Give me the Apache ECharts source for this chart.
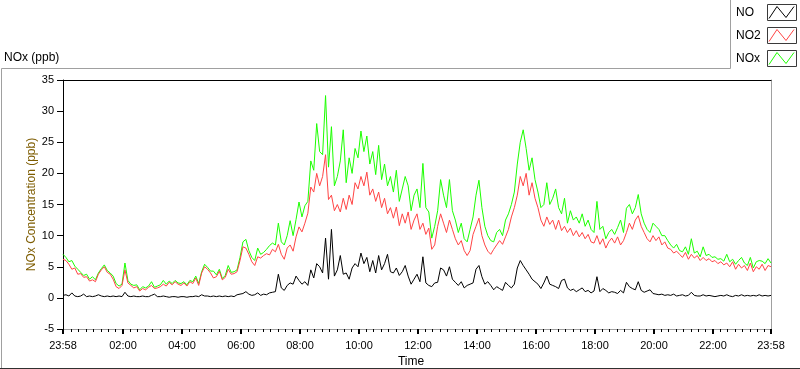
<!DOCTYPE html>
<html><head><meta charset="utf-8">
<script src="https://cdn.jsdelivr.net/npm/echarts@6/dist/echarts.min.js"></script>
<style>html,body{margin:0;padding:0;background:#fff}#c{width:800px;height:369px}</style>
</head><body><div id="c"></div>
<script>
// sample grid: first sample at 23:58 of previous day (minute -2), one sample every 6 minutes
const startMinute = -2;
const stepMinutes = 6;

const no = [
0.4,0.5,0.3,0.8,0.3,0.2,0.3,0.6,0.2,0.3,
0.2,0.3,0.5,0.3,0.2,0.3,0.2,0.3,0.2,0.3,
0.2,0.9,0.3,0.2,0.3,0.2,0.2,0.3,0.2,0.2,
0.4,0.6,0.2,0.2,0.3,0.2,0.1,0.2,0.2,0.1,
0.2,0.2,0.1,0.2,0.2,0.3,0.2,0.5,0.3,0.3,
0.2,0.3,0.2,0.3,0.2,0.3,0.2,0.3,0.2,0.5,
0.6,0.7,1.0,0.6,0.4,0.5,0.8,0.4,0.6,0.5,
0.8,0.9,1.0,3.8,1.6,1.2,2.0,2.4,2.2,3.5,
2.8,2.2,2.6,2.0,4.5,3.2,5.5,5.0,4.0,9.6,
3.0,11.0,3.5,4.5,6.8,3.8,4.0,3.0,4.8,5.5,
5.0,7.2,5.5,6.5,4.2,6.0,4.0,6.8,4.5,5.5,
7.0,4.2,4.0,4.8,3.6,4.2,5.2,3.5,2.2,3.0,
3.8,2.6,6.6,2.4,2.0,1.8,2.4,2.5,4.8,4.5,
3.5,5.0,3.0,2.5,2.0,2.6,1.6,2.0,2.2,2.4,
4.6,5.2,3.4,2.2,2.6,2.0,1.3,1.8,1.5,1.2,
2.5,2.0,1.6,2.2,4.8,6.0,5.2,4.5,3.8,3.0,
2.6,2.2,1.5,2.4,3.5,2.2,2.0,1.8,1.5,2.8,
3.0,1.6,1.2,1.4,1.0,1.3,1.6,1.0,1.2,0.8,
1.1,3.4,1.0,1.5,1.2,0.8,1.0,0.9,0.7,1.2,
0.8,2.5,1.8,1.5,1.3,2.6,1.2,0.9,1.1,1.3,
0.7,0.6,0.5,0.6,0.4,0.5,0.4,0.6,0.3,0.4,
0.5,0.3,0.4,0.9,0.4,0.3,0.3,0.5,0.3,0.4,
0.3,0.2,0.3,0.4,0.3,0.5,0.3,0.2,0.4,0.3,
0.5,0.3,0.4,0.3,0.4,0.3,0.5,0.3,0.4,0.3,
0.4];

const no2 = [
6.2,6.0,5.4,4.6,4.8,3.8,3.9,3.3,3.4,2.7,
2.9,2.6,3.8,4.5,5.0,4.1,3.8,3.0,1.8,1.5,
2.0,4.5,2.4,2.0,1.6,1.8,1.1,1.5,1.3,1.7,
2.0,1.5,1.6,1.8,2.2,1.9,2.5,2.1,2.6,2.2,
2.0,2.4,1.9,2.6,2.3,3.2,2.0,4.0,5.0,4.6,
4.0,3.2,3.4,4.3,2.9,3.3,4.6,3.8,3.9,4.2,
6.0,8.2,8.0,7.0,5.8,5.2,6.6,6.4,6.8,7.1,
6.9,7.8,7.4,8.6,7.0,6.2,8.0,8.5,7.5,9.8,
11.4,10.6,12.0,13.6,17.8,17.0,20.0,18.0,19.5,23.0,
15.8,16.5,14.0,15.0,13.8,16.0,14.2,16.5,15.0,18.5,
17.5,19.5,18.0,20.2,16.5,17.5,15.5,17.0,14.5,16.0,
13.5,14.5,12.8,14.6,11.6,13.5,12.0,13.8,11.0,12.5,
13.5,11.0,12.0,10.2,11.2,7.8,8.5,11.5,13.5,12.0,
10.5,12.5,11.0,9.5,8.5,9.2,7.6,6.8,7.6,10.2,
11.5,12.8,10.0,8.5,7.5,7.0,7.8,8.5,9.2,8.6,
9.8,11.0,13.0,14.5,16.5,19.5,18.0,20.0,16.5,18.5,
16.0,14.5,12.5,11.5,13.0,11.8,12.5,11.0,12.5,10.8,
11.5,10.5,11.2,10.0,10.8,9.8,10.5,9.5,10.2,9.0,
8.8,10.0,8.6,9.5,8.0,9.0,9.6,8.8,9.8,8.5,
9.2,10.5,12.0,11.0,12.5,13.2,11.5,10.5,9.5,9.0,
10.0,9.2,9.8,8.5,9.0,8.0,7.8,7.2,7.5,7.0,
6.5,7.3,6.2,7.0,6.4,6.8,6.0,6.5,6.0,6.3,
5.8,6.0,5.5,5.8,5.3,5.6,5.0,5.8,4.6,5.4,
4.8,5.2,4.4,5.6,4.2,5.0,4.6,5.4,4.4,5.2,
5.0];

const nox = [
7.0,6.5,5.8,6.0,5.1,4.6,4.1,3.6,3.8,3.0,
3.4,2.9,4.0,4.7,5.3,4.4,4.0,3.5,2.3,1.9,
2.2,5.6,2.8,2.2,2.0,2.1,1.3,1.8,1.6,1.9,
2.6,1.7,1.9,2.1,2.8,2.2,2.7,2.3,2.8,2.4,
2.3,2.6,2.1,2.8,2.6,3.5,2.3,4.2,5.4,4.9,
4.3,4.3,3.7,4.6,3.1,3.6,5.2,4.1,4.2,4.5,
6.5,9.0,9.4,7.6,6.5,6.0,8.0,7.0,7.3,7.8,
8.4,8.8,8.5,12.0,9.0,8.5,10.0,12.4,10.0,12.6,
15.4,13.0,14.8,15.5,22.0,20.5,28.0,23.5,23.0,32.5,
21.0,27.5,18.0,19.5,22.0,27.0,18.5,22.5,20.0,24.0,
22.5,26.8,23.5,26.0,21.5,23.5,19.8,24.5,19.0,21.5,
18.0,19.5,17.0,20.5,15.5,17.5,19.5,18.0,14.0,16.5,
17.5,14.5,21.6,14.5,13.8,9.6,11.5,14.0,19.0,16.5,
14.5,19.0,14.0,12.5,10.5,12.0,9.5,9.0,11.0,13.0,
16.5,18.9,14.5,11.5,10.0,9.2,9.0,10.5,11.0,10.0,
12.5,13.5,15.0,17.0,21.5,25.0,27.0,24.0,20.5,22.5,
19.0,17.0,14.5,15.0,18.5,15.0,16.0,17.5,14.5,13.5,
16.0,12.0,14.0,12.5,13.0,12.0,13.5,11.5,12.5,11.0,
10.5,15.5,11.0,11.5,9.5,10.5,11.0,10.2,11.3,12.5,
10.5,14.4,15.0,13.5,14.5,16.6,13.5,12.0,11.0,10.5,
12.0,11.5,11.0,10.0,10.0,9.2,8.5,8.0,8.6,7.6,
7.4,8.2,7.0,9.5,7.2,7.5,6.6,8.2,6.8,7.0,
6.5,6.6,6.2,6.3,5.9,7.0,5.8,6.2,5.4,6.0,
6.5,5.6,5.2,6.5,4.8,5.8,6.0,5.9,5.5,6.3,
5.6];

// axis tick positions (minutes after midnight) and their labels
const majorTickValues = [-2,120,240,360,480,600,720,840,960,1080,1200,1320,1438];
const majorTickLabels = ['23:58','02:00','04:00','06:00','08:00','10:00','12:00','14:00','16:00','18:00','20:00','22:00','23:58'];
const minorTickValues = [];
for (let m = 15; m < 1438; m += 15) { if (m % 120 !== 0) minorTickValues.push(m); }

const seriesNames = ['NO','NO2','NOx'];
const seriesColors = {NO:'#000000', NO2:'#ff4444', NOx:'#1cff00'};
const FONT = 'Liberation Sans, Arial, sans-serif';

function toPoints(arr){ return arr.map((v,i)=>[startMinute + i*stepMinutes, v]); }
function labelFor(v){
  const i = majorTickValues.findIndex(t => Math.abs(t - v) < 0.5);
  return i >= 0 ? majorTickLabels[i] : '';
}

const chart = echarts.init(document.getElementById('c'), null, {renderer:'canvas'});
const gridRect = {left:63, top:80, width:708, height:249, outerBoundsMode:'none', containLabel:false};

const legendItems = seriesNames.map((n, i) => {
  const y0 = 4.5 + i*23;
  return [
    {type:'text', x:736, y:y0+8, style:{text:n, fontSize:12, fontFamily:FONT, fill:'#000', verticalAlign:'middle'}},
    {type:'rect', shape:{x:767.5, y:y0, width:29, height:16}, style:{fill:'#fff', stroke:'#3a3a3a', lineWidth:1}},
    {type:'polyline', shape:{points:[[769,y0+14],[777,y0+2],[786,y0+13],[794,y0+2]]}, style:{stroke:seriesColors[n], fill:null, lineWidth:1}}
  ];
}).flat();

chart.setOption({
  animation:false,
  backgroundColor:'#ffffff',
  grid:[Object.assign({}, gridRect), Object.assign({}, gridRect)],
  xAxis:[
    {gridIndex:0, type:'value', position:'bottom', min:-2, max:1438,
     axisLine:{show:true, onZero:false, lineStyle:{color:'#a0a0a0', width:1}},
     axisTick:{show:true, customValues:majorTickValues, length:5, lineStyle:{color:'#000', width:2}},
     axisLabel:{show:true, customValues:majorTickValues, formatter:labelFor, color:'#000', fontSize:11, fontFamily:FONT, margin:11},
     splitLine:{show:false},
     name:'Time', nameLocation:'middle', nameGap:27, nameMoveOverlap:false,
     nameTextStyle:{color:'#000', fontSize:12, fontFamily:FONT, padding:[0,12,0,0]}},
    {gridIndex:0, type:'value', position:'top', min:-2, max:1438,
     axisLine:{show:true, onZero:false, lineStyle:{color:'#000', width:1}},
     axisTick:{show:false}, axisLabel:{show:false}, splitLine:{show:false}},
    {gridIndex:1, type:'value', position:'bottom', min:-2, max:1438,
     axisLine:{show:true, onZero:false, lineStyle:{color:'#a0a0a0', width:1}},
     axisTick:{show:true, customValues:minorTickValues, length:3, lineStyle:{color:'#000', width:1}},
     axisLabel:{show:false}, splitLine:{show:false}}
  ],
  yAxis:[
    {gridIndex:0, type:'value', position:'left', min:-5, max:35, interval:5,
     axisLine:{show:true, onZero:false, lineStyle:{color:'#000', width:1}},
     axisTick:{show:true, length:6, lineStyle:{color:'#000', width:1}},
     axisLabel:{color:'#000', fontSize:11, fontFamily:FONT, margin:9},
     splitLine:{show:false},
     name:'NOx Concentration (ppb)', nameLocation:'middle', nameGap:25, nameMoveOverlap:false,
     nameTextStyle:{color:'#7d5c00', fontSize:12, fontFamily:FONT}},
    {gridIndex:0, type:'value', position:'right', min:-5, max:35, interval:5,
     axisLine:{show:true, onZero:false, lineStyle:{color:'#a0a0a0', width:1}},
     axisTick:{show:false}, axisLabel:{show:false}, splitLine:{show:false}},
    {gridIndex:1, type:'value', min:-5, max:35, show:false}
  ],
  series:[
    {name:'NOx', type:'line', xAxisIndex:0, yAxisIndex:0, data:toPoints(nox), showSymbol:false, symbol:'none',
     lineStyle:{color:seriesColors.NOx, width:1}, itemStyle:{color:seriesColors.NOx}},
    {name:'NO2', type:'line', xAxisIndex:0, yAxisIndex:0, data:toPoints(no2), showSymbol:false, symbol:'none',
     lineStyle:{color:seriesColors.NO2, width:1}, itemStyle:{color:seriesColors.NO2}},
    {name:'NO', type:'line', xAxisIndex:0, yAxisIndex:0, data:toPoints(no), showSymbol:false, symbol:'none',
     lineStyle:{color:seriesColors.NO, width:1}, itemStyle:{color:seriesColors.NO}}
  ],
  graphic:[
    {type:'polyline', shape:{points:[[1.5,369],[1.5,68.5],[730.5,68.5],[730.5,0]]}, style:{stroke:'#a0a0a0', fill:null, lineWidth:1}},
    {type:'line', shape:{x1:0, y1:368.5, x2:800, y2:368.5}, style:{stroke:'#303030', lineWidth:1}},
    {type:'text', x:4, y:58, style:{text:'NOx (ppb)', fontSize:12, fontFamily:FONT, fill:'#000', verticalAlign:'middle'}}
  ].concat(legendItems)
});
</script>
</body></html>
